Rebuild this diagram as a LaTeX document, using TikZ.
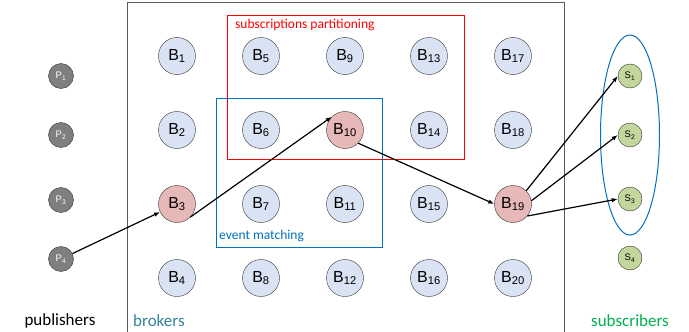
\documentclass[tikz,border=0pt]{standalone}
\usepackage{fontspec}
\setmainfont{Liberation Sans}
\newfontfamily\labelfont{Carlito}
\usetikzlibrary{positioning,shapes.geometric,arrows.meta}
\definecolor{brokerblue}{HTML}{DAE3F3}
\definecolor{hotred}{HTML}{E6B9B8}
\definecolor{pubgray}{HTML}{7F7F7F}
\definecolor{subgreen}{HTML}{C3D69B}
\definecolor{matchblue}{HTML}{0070C0}
\definecolor{brokerteal}{HTML}{31849B}
\definecolor{subtextgreen}{HTML}{00B050}

\begin{document}
\begin{tikzpicture}[x=1pt, y=-1pt,
    broker/.style={draw=black!80, circle, fill=brokerblue, minimum size=37pt, inner sep=0pt, font=\fontsize{16}{16}\selectfont},
    hot/.style={broker, fill=hotred},
    pub/.style={draw=black!80, circle, fill=pubgray, text=white, minimum size=25pt, inner sep=0pt, font=\fontsize{9.5}{9.5}\selectfont},
    sub/.style={draw=black!80, circle, fill=subgreen, minimum size=24pt, inner sep=0pt, font=\fontsize{9.5}{9.5}\selectfont},
    flow/.style={-{Latex[length=6pt,width=4.5pt]}, line width=1.2pt},
    caption/.style={font=\labelfont\fontsize{17}{17}\selectfont, inner sep=0pt},
    area/.style={font=\labelfont\fontsize{13.5}{13.5}\selectfont, inner sep=0pt}]
        \useasboundingbox (0,0) rectangle (689,332);

        % Broker area
        \draw[black!65, line width=1pt] (127,332) |- (564,2) -- (564,332);
        \draw[red, line width=1pt] (227,15) rectangle (464,159);
        \draw[matchblue, line width=1pt] (216,98) rectangle (382,247);
        \node (partlabel) [area, text=red, anchor=west] at (235,25) {subscriptions partitioning};
        \node (matchlabel) [area, text=matchblue, anchor=west] at (219,236) {event matching};

        % Brokers
        \begin{scope}[node distance={74pt and 84pt}, on grid]
        \node (B1) [broker] at (177,56) {B\textsubscript{1}};
        \node (B2) [broker, below=of B1] {B\textsubscript{2}};
        \node (B3) [hot, below=of B2] {B\textsubscript{3}};
        \node (B4) [broker, below=of B3] {B\textsubscript{4}};
        \node (B5) [broker, right=of B1] {B\textsubscript{5}};
        \node (B6) [broker, below=of B5] {B\textsubscript{6}};
        \node (B7) [broker, below=of B6] {B\textsubscript{7}};
        \node (B8) [broker, below=of B7] {B\textsubscript{8}};
        \node (B9) [broker, right=of B5] {B\textsubscript{9}};
        \node (B10) [hot, below=of B9] {B\textsubscript{10}};
        \node (B11) [broker, below=of B10] {B\textsubscript{11}};
        \node (B12) [broker, below=of B11] {B\textsubscript{12}};
        \node (B13) [broker, right=of B9] {B\textsubscript{13}};
        \node (B14) [broker, below=of B13] {B\textsubscript{14}};
        \node (B15) [broker, below=of B14] {B\textsubscript{15}};
        \node (B16) [broker, below=of B15] {B\textsubscript{16}};
        \node (B17) [broker, right=of B13] {B\textsubscript{17}};
        \node (B18) [broker, below=of B17] {B\textsubscript{18}};
        \node (B19) [hot, below=of B18] {B\textsubscript{19}};
        \node (B20) [broker, below=of B19] {B\textsubscript{20}};
        \end{scope}

        % Publishers and subscribers
        \node (P1) [pub] at (61,76) {P\textsubscript{1}};
        \node (P2) [pub] at (61,135) {P\textsubscript{2}};
        \node (P3) [pub] at (61,200) {P\textsubscript{3}};
        \node (P4) [pub] at (61,259) {P\textsubscript{4}};
        \node (S1) [sub] at (630,76) {S\textsubscript{1}};
        \node (S2) [sub] at (630,135) {S\textsubscript{2}};
        \node (S3) [sub] at (630,199) {S\textsubscript{3}};
        \node (S4) [sub] at (630,258) {S\textsubscript{4}};
        \node (group) [draw=matchblue, line width=1pt, ellipse, minimum width=59pt, minimum height=200pt] at (630,135) {};

        % Captions
        \node (publishers) [caption] at (60,321) {publishers};
        \node (brokers) [caption, text=brokerteal, anchor=west] at (133,321) {brokers};
        \node (subscribers) [caption, text=subtextgreen] at (630,321) {subscribers};

        % Arrows
        \draw [flow] (P4) -- (B3);
        \draw [flow] (B3.south east) -- (B10.north west);
        \draw [flow] (B10.south east) -- (B19.west);
        \draw [flow] (B19.north east) -- (S1.west);
        \draw [flow] (B19.10) -- (S2.west);
        \draw [flow] (B19.-40) -- (S3.west);
    \end{tikzpicture}
\end{document}
